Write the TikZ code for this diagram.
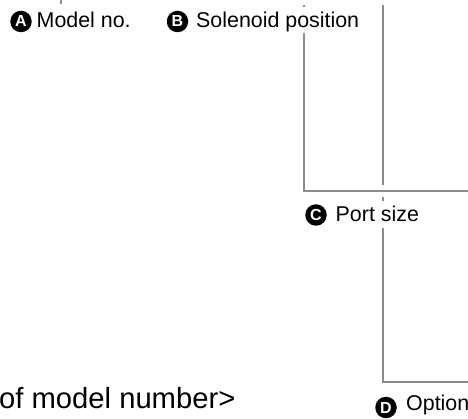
\documentclass[tikz,border=0pt]{standalone}
\usepackage{fontspec}
\setmainfont{Liberation Sans}
\definecolor{linegray}{RGB}{140,140,140}
\begin{document}
\begin{tikzpicture}[x=1pt,y=-1pt,
  leader/.style={draw=linegray, line width=2pt},
  gapline/.style={draw=white, line width=4pt},
  badge/.style={circle, fill=black, text=white, font=\fontsize{16}{16}\selectfont\bfseries, minimum size=21.5pt, inner sep=0pt},
  lbl/.style={fill=white, font=\fontsize{21.4}{24}\selectfont, anchor=base west, inner xsep=0pt, inner ysep=1.5pt, text height=19pt, text depth=4.5pt},
  title/.style={font=\fontsize{29.2}{32}\selectfont, anchor=base west, inner sep=0pt}
]
\useasboundingbox (0,0) rectangle (468,419);

% leader coordinates
\coordinate (a0) at (61,0);
\coordinate (a1) at (61,4);
\coordinate (b0) at (304,5);
\coordinate (b1) at (304,191);
\coordinate (b2) at (470,191);
\coordinate (c0) at (383,5);
\coordinate (c1) at (383,382);
\coordinate (c2) at (470,382);
\coordinate (g0) at (383,185);
\coordinate (g1) at (383,197);

% leaders
\draw[leader] (a0) -- (a1);
\draw[leader] (c0) -- (c1) -- (c2);
\draw[gapline] (g0) -- (g1);
\draw[leader] (b0) -- (b1) -- (b2);

% labels
\node[badge] (ba) at (21,21.5) {A};
\node[lbl] (ta) at (36.5,27.5) {Model no.};
\node[badge] (bb) at (177.5,21.5) {B};
\node[lbl] (tb) at (196,27.5) {Solenoid position};
\node[badge] (bc) at (316,215) {C};
\node[lbl] (tc) at (335.5,222) {Port size};
\node[badge] (bd) at (386,407.5) {D};
\node[lbl] (td) at (406,410.5) {Option};

\node[title] (tt) at (-1,408) {of model number>};
\end{tikzpicture}
\end{document}
